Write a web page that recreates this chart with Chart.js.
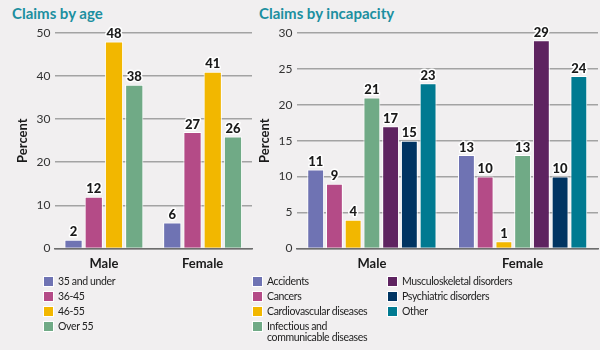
<!DOCTYPE html>
<html>
<head>
<meta charset="utf-8">
<script src="https://cdn.jsdelivr.net/npm/chart.js@4.4.1/dist/chart.umd.min.js"></script>
<style>
  html, body { margin: 0; padding: 0; background: #f1eff0; }
  body { width: 600px; height: 350px; position: relative; overflow: hidden; font-family: Lato, "Open Sans", sans-serif; }
  .title { position: absolute; top: 4px; font-weight: bold; font-size: 15px; color: #1c8fa0; }
  .box { position: absolute; top: 0; height: 276px; }
  .legend { position: absolute; font-size: 10.5px; letter-spacing: -0.35px; color: #222; }
  .legend div { position: relative; padding-left: 15px; line-height: 11px; margin-bottom: 4px; }
  .legend span { position: absolute; left: 0; top: 0; width: 9px; height: 9px; border: 1px solid #fff; }
</style>
</head>
<body>
<div class="title" style="left:12px">Claims by age</div>
<div class="title" style="left:259px">Claims by incapacity</div>
<div class="box" style="left:0; width:254px"><canvas id="ageChart"></canvas></div>
<div class="box" style="left:250px; width:350px"><canvas id="incChart"></canvas></div>
<div class="legend" id="ageLegend" style="left:43px; top:276px"></div>
<div class="legend" id="incLegend1" style="left:252px; top:276px"></div>
<div class="legend" id="incLegend2" style="left:387px; top:276px"></div>
<script>
// data
const genders = ["Male", "Female"];

const ageGroups = ["35 and under", "36-45", "46-55", "Over 55"];
const ageValues = [
    [2, 6],
    [12, 27],
    [48, 41],
    [38, 26]
];
const ageColors = ["#6f73b3", "#b44b87", "#f2b700", "#70aa86"];
const ageTicks = [0, 10, 20, 30, 40, 50];

const incapacities = ["Accidents", "Cancers", "Cardiovascular diseases", "Infectious and\ncommunicable diseases", "Musculoskeletal disorders", "Psychiatric disorders", "Other"];
const incValues = [
    [11, 13],
    [9, 10],
    [4, 1],
    [21, 13],
    [17, 29],
    [15, 10],
    [23, 24]
];
const incColors = ["#6f73b3", "#b44b87", "#f2b700", "#70aa86", "#5e2360", "#003462", "#007a91"];
const incTicks = [0, 5, 10, 15, 20, 25, 30];

const FONT = "Lato, 'Open Sans', sans-serif";

// value labels above bars, with a white halo
const valueLabels = {
    id: 'valueLabels',
    afterDatasetsDraw(chart) {
        const ctx = chart.ctx;
        ctx.save();
        ctx.font = "900 13px " + FONT;
        ctx.textAlign = 'center';
        ctx.textBaseline = 'bottom';
        ctx.lineJoin = 'round';
        chart.data.datasets.forEach((ds, i) => {
            chart.getDatasetMeta(i).data.forEach((bar, j) => {
                const txt = String(ds.data[j]);
                ctx.lineWidth = 3;
                ctx.strokeStyle = '#ffffff';
                ctx.strokeText(txt, bar.x, bar.y - 1);
                ctx.fillStyle = '#1a1a1a';
                ctx.fillText(txt, bar.x, bar.y - 1);
            });
        });
        ctx.restore();
    }
};

function makeChart(id, labels, values, colors, ticks, padLeft, catPct, barPct) {
    const datasets = labels.map((name, i) => ({
        label: name,
        data: values[i],
        backgroundColor: colors[i],
        borderColor: '#ffffff',
        borderWidth: 1,
        categoryPercentage: catPct,
        barPercentage: barPct
    }));
    return new Chart(document.getElementById(id), {
        type: 'bar',
        data: { labels: genders, datasets: datasets },
        plugins: [valueLabels],
        options: {
            responsive: true,
            maintainAspectRatio: false,
            animation: false,
            layout: { padding: { top: 33, left: padLeft, right: 2, bottom: 4 } },
            plugins: { legend: { display: false }, tooltip: { enabled: false } },
            scales: {
                x: {
                    grid: { display: false },
                    border: { color: '#6d6d6d', width: 1.5 },
                    ticks: { color: '#1a1a1a', font: { family: FONT, size: 13, weight: 'bold' }, padding: 0 }
                },
                y: {
                    min: ticks[0],
                    max: ticks[ticks.length - 1],
                    afterBuildTicks(axis) { axis.ticks = ticks.map(v => ({ value: v })); },
                    grid: { color: '#a3a3a3', lineWidth: 1.5, drawTicks: false },
                    border: { display: false },
                    ticks: { color: '#333', font: { family: FONT, size: 12 }, padding: 4 },
                    title: { display: true, text: 'Percent', color: '#1a1a1a', font: { family: FONT, size: 13, weight: 'bold' }, padding: 2 }
                }
            }
        }
    });
}

makeChart('ageChart', ageGroups, ageValues, ageColors, ageTicks, 13, 0.82, 0.9);
makeChart('incChart', incapacities, incValues, incColors, incTicks, 5, 0.87, 0.9);

function buildLegend(elId, names, colors) {
    const el = document.getElementById(elId);
    names.forEach((n, i) => {
        const row = document.createElement('div');
        row.innerHTML = '<span style="background:' + colors[i] + '"></span>' + n.replace('\n', '<br>');
        el.appendChild(row);
    });
}
buildLegend('ageLegend', ageGroups, ageColors);
buildLegend('incLegend1', incapacities.slice(0, 4), incColors.slice(0, 4));
buildLegend('incLegend2', incapacities.slice(4), incColors.slice(4));
</script>
</body>
</html>
